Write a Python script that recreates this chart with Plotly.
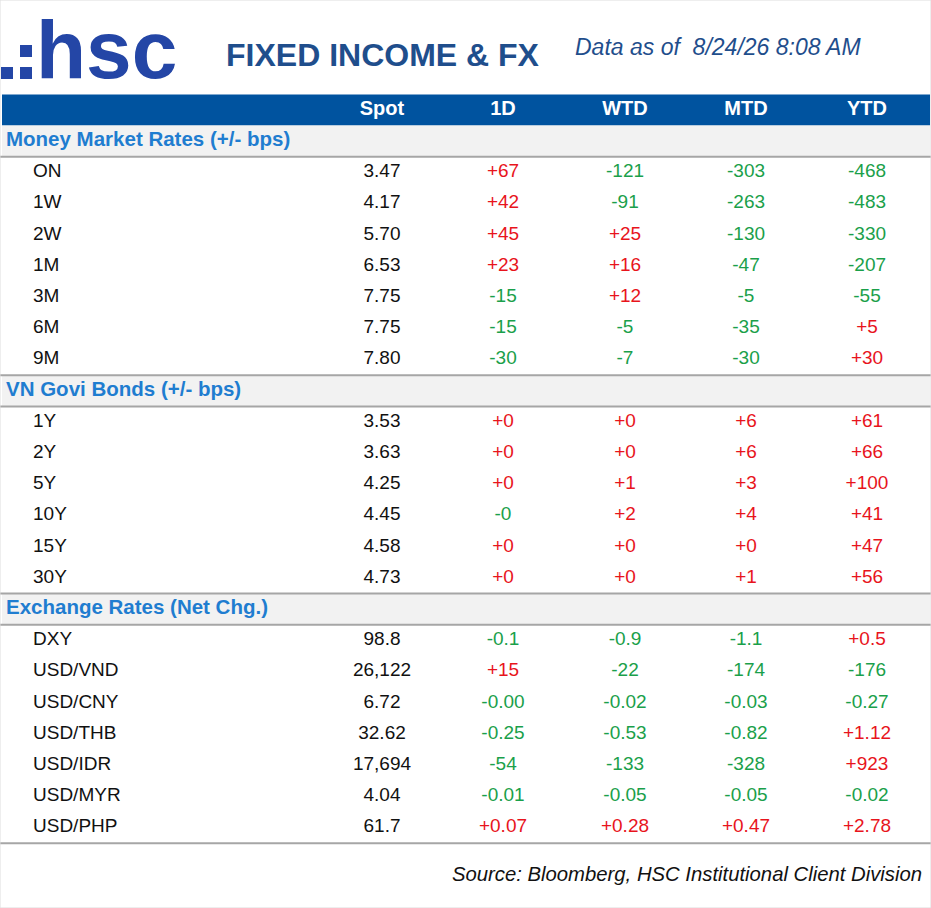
import plotly.graph_objects as go

# ---- data ----
columns = ["Spot", "1D", "WTD", "MTD", "YTD"]

mm_title = "Money Market Rates (+/- bps)"
mm_labels = ["ON", "1W", "2W", "1M", "3M", "6M", "9M"]
mm_spot = ["3.47", "4.17", "5.70", "6.53", "7.75", "7.75", "7.80"]
mm_1d = ["+67", "+42", "+45", "+23", "-15", "-15", "-30"]
mm_wtd = ["-121", "-91", "+25", "+16", "+12", "-5", "-7"]
mm_mtd = ["-303", "-263", "-130", "-47", "-5", "-35", "-30"]
mm_ytd = ["-468", "-483", "-330", "-207", "-55", "+5", "+30"]

bd_title = "VN Govi Bonds (+/- bps)"
bd_labels = ["1Y", "2Y", "5Y", "10Y", "15Y", "30Y"]
bd_spot = ["3.53", "3.63", "4.25", "4.45", "4.58", "4.73"]
bd_1d = ["+0", "+0", "+0", "-0", "+0", "+0"]
bd_wtd = ["+0", "+0", "+1", "+2", "+0", "+0"]
bd_mtd = ["+6", "+6", "+3", "+4", "+0", "+1"]
bd_ytd = ["+61", "+66", "+100", "+41", "+47", "+56"]

fx_title = "Exchange Rates (Net Chg.)"
fx_labels = ["DXY", "USD/VND", "USD/CNY", "USD/THB", "USD/IDR", "USD/MYR", "USD/PHP"]
fx_spot = ["98.8", "26,122", "6.72", "32.62", "17,694", "4.04", "61.7"]
fx_1d = ["-0.1", "+15", "-0.00", "-0.25", "-54", "-0.01", "+0.07"]
fx_wtd = ["-0.9", "-22", "-0.02", "-0.53", "-133", "-0.05", "+0.28"]
fx_mtd = ["-1.1", "-174", "-0.03", "-0.82", "-328", "-0.05", "+0.47"]
fx_ytd = ["+0.5", "-176", "-0.27", "+1.12", "+923", "-0.02", "+2.78"]

title = "FIXED INCOME & FX"
as_of = "Data as of  8/24/26 8:08 AM"
source = "Source: Bloomberg, HSC Institutional Client Division"

# ---- styling ----
W, H = 931, 908
ROW_H = 31.2
ROW0_PX = 110          # pixel centre of header row
col_x = [382, 503, 625, 746, 867]
label_x = 33
section_x = 6
BLUE_BAR = "#00539f"
SECTION_BLUE = "#1f7dd0"
RED = "#e8141c"
GREEN = "#1aa04a"
GRID = "#a6a6a6"
FONT = "Liberation Sans, Arial, sans-serif"

sections = [
    (mm_title, mm_labels, mm_spot, [mm_1d, mm_wtd, mm_mtd, mm_ytd]),
    (bd_title, bd_labels, bd_spot, [bd_1d, bd_wtd, bd_mtd, bd_ytd]),
    (fx_title, fx_labels, fx_spot, [fx_1d, fx_wtd, fx_mtd, fx_ytd]),
]

# flatten into rows (row 0 is the column header)
sec_rows, sec_names = [], []
row_y, row_lab, row_spot = [], [], []
chg = [[], [], [], []]
r = 1
for name, labels, spot, changes in sections:
    sec_rows.append(r)
    sec_names.append(name)
    r += 1
    for i, lab in enumerate(labels):
        row_y.append(r)
        row_lab.append(lab)
        row_spot.append(spot[i])
        for k in range(4):
            chg[k].append(changes[k][i])
        r += 1
n_rows = r


def chg_color(s):
    return RED if s.startswith("+") else GREEN


fig = go.Figure()

# row labels
fig.add_trace(go.Scatter(x=[label_x] * len(row_y), y=row_y, text=row_lab, mode="text",
                         textposition="middle right",
                         textfont=dict(family=FONT, size=19, color="#111111"),
                         hoverinfo="skip"))
# spot column
fig.add_trace(go.Scatter(x=[col_x[0]] * len(row_y), y=row_y, text=row_spot, mode="text",
                         textposition="middle center",
                         textfont=dict(family=FONT, size=19, color="#111111"),
                         hoverinfo="skip"))
# change columns
for k in range(4):
    fig.add_trace(go.Scatter(x=[col_x[k + 1]] * len(row_y), y=row_y, text=chg[k], mode="text",
                             textposition="middle center",
                             textfont=dict(family=FONT, size=19,
                                           color=[chg_color(s) for s in chg[k]]),
                             hoverinfo="skip"))
# column headers
fig.add_trace(go.Scatter(x=col_x, y=[0] * len(columns), text=columns, mode="text",
                         textposition="middle center",
                         textfont=dict(family=FONT, size=20, color="white", weight="bold"),
                         hoverinfo="skip"))
# section titles
fig.add_trace(go.Scatter(x=[section_x] * len(sec_rows), y=sec_rows, text=sec_names, mode="text",
                         textposition="middle right",
                         textfont=dict(family=FONT, size=20.5, color=SECTION_BLUE, weight="bold"),
                         hoverinfo="skip"))

shapes = []
# header bar
shapes.append(dict(type="rect", xref="x", yref="y", x0=2, x1=930, y0=-0.5, y1=0.5,
                   fillcolor=BLUE_BAR, line_width=0, layer="below"))
# section backgrounds and rules
for s in sec_rows:
    shapes.append(dict(type="rect", xref="x", yref="y", x0=2, x1=930, y0=s - 0.5, y1=s + 0.5,
                       fillcolor="#f2f2f2", line_width=0, layer="below"))
    shapes.append(dict(type="line", xref="x", yref="y", x0=0, x1=931, y0=s + 0.5, y1=s + 0.5,
                       line=dict(color=GRID, width=2)))
    if s != 1:
        shapes.append(dict(type="line", xref="x", yref="y", x0=0, x1=931, y0=s - 0.5, y1=s - 0.5,
                           line=dict(color=GRID, width=2)))
shapes.append(dict(type="line", xref="x", yref="y", x0=0, x1=931,
                   y0=n_rows - 0.5, y1=n_rows - 0.5, line=dict(color=GRID, width=2)))
# outer frame
shapes.append(dict(type="rect", xref="paper", yref="paper", x0=0, x1=1, y0=0, y1=1,
                   line=dict(color="#dddddd", width=1)))


def py(px):
    return 1 - px / H


# logo dots ".:"
LOGO = "#2446a6"
for (x0, y0, x1, y1) in [(1, 67, 13, 79), (20, 67, 32, 79), (20, 45, 32, 57)]:
    shapes.append(dict(type="rect", xref="x", yref="paper", x0=x0, x1=x1, y0=py(y1), y1=py(y0),
                       fillcolor=LOGO, line_width=0))

annotations = [
    dict(text="hsc", x=34, y=py(50), xref="x", yref="paper", xanchor="left", yanchor="middle",
         showarrow=False, font=dict(family=FONT, size=82, color=LOGO, weight="bold")),
    dict(text=title, x=224, y=py(55), xref="x", yref="paper", xanchor="left", yanchor="middle",
         showarrow=False, font=dict(family=FONT, size=32, color="#1f4e8c", weight="bold")),
    dict(text="<i>" + as_of + "</i>", x=573, y=py(47), xref="x", yref="paper", xanchor="left",
         yanchor="middle", showarrow=False, font=dict(family=FONT, size=23, color="#1f4e8c")),
    dict(text="<i>" + source + "</i>", x=924, y=py(874), xref="x", yref="paper", xanchor="right",
         yanchor="middle", showarrow=False, font=dict(family=FONT, size=20.3, color="#111111")),
]

y_top = -ROW0_PX / ROW_H
y_bot = (H - ROW0_PX) / ROW_H

fig.update_layout(
    width=W, height=H,
    margin=dict(l=0, r=0, t=0, b=0),
    paper_bgcolor="white", plot_bgcolor="white",
    showlegend=False,
    xaxis=dict(range=[0, W], visible=False, fixedrange=True),
    yaxis=dict(range=[y_bot, y_top], visible=False, fixedrange=True),
    shapes=shapes,
    annotations=annotations,
)

# drop the browser's default body margin so the figure sits at the page corner
fig.write_html("out.html", config={"displayModeBar": False},
               post_script="document.body.style.margin='0';document.body.style.overflow='hidden';")
